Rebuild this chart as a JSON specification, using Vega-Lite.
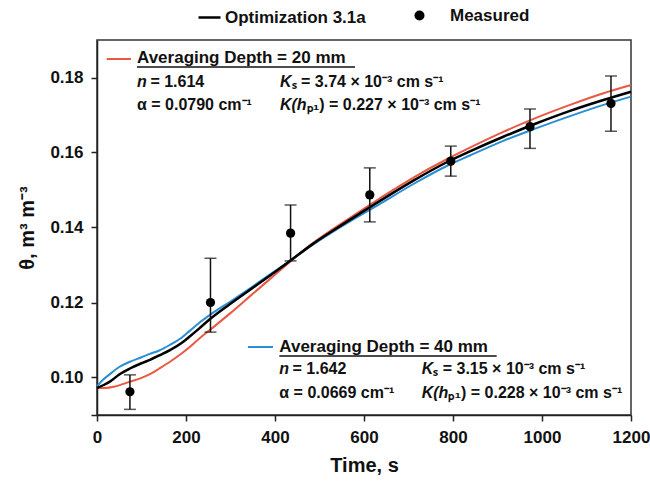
{
  "$schema": "https://vega.github.io/schema/vega-lite/v6.json",
  "width": 534,
  "height": 375,
  "autosize": "none",
  "padding": {"left": 97, "top": 40, "right": 19, "bottom": 71},
  "background": "white",
  "config": {
    "view": {"stroke": "#333", "strokeWidth": 1.5},
    "font": "Liberation Sans",
    "axis": {
      "grid": false,
      "domainColor": "#222",
      "domainWidth": 1.5,
      "tickColor": "#222",
      "tickWidth": 1.5,
      "tickSize": 6,
      "labelFont": "Liberation Sans",
      "labelFontSize": 17,
      "labelFontWeight": "bold",
      "labelColor": "#111",
      "titleFont": "Liberation Sans",
      "titleFontSize": 20,
      "titleFontWeight": "bold",
      "titleColor": "#111"
    }
  },
  "datasets": {
    "curves": [
      {"series": "Averaging Depth = 20 mm", "t": 0, "theta": 0.0972},
      {"series": "Averaging Depth = 20 mm", "t": 20, "theta": 0.0972},
      {"series": "Averaging Depth = 20 mm", "t": 40, "theta": 0.0976},
      {"series": "Averaging Depth = 20 mm", "t": 74, "theta": 0.0989},
      {"series": "Averaging Depth = 20 mm", "t": 100, "theta": 0.0999},
      {"series": "Averaging Depth = 20 mm", "t": 119, "theta": 0.1009},
      {"series": "Averaging Depth = 20 mm", "t": 140, "theta": 0.1024},
      {"series": "Averaging Depth = 20 mm", "t": 164, "theta": 0.1042},
      {"series": "Averaging Depth = 20 mm", "t": 190, "theta": 0.1064},
      {"series": "Averaging Depth = 20 mm", "t": 209, "theta": 0.1082},
      {"series": "Averaging Depth = 20 mm", "t": 230, "theta": 0.1104},
      {"series": "Averaging Depth = 20 mm", "t": 254, "theta": 0.1127},
      {"series": "Averaging Depth = 20 mm", "t": 299, "theta": 0.1171},
      {"series": "Averaging Depth = 20 mm", "t": 344, "theta": 0.1217},
      {"series": "Averaging Depth = 20 mm", "t": 389, "theta": 0.1263},
      {"series": "Averaging Depth = 20 mm", "t": 426, "theta": 0.1301},
      {"series": "Averaging Depth = 20 mm", "t": 486, "theta": 0.1359},
      {"series": "Averaging Depth = 20 mm", "t": 561, "theta": 0.1420},
      {"series": "Averaging Depth = 20 mm", "t": 636, "theta": 0.1478},
      {"series": "Averaging Depth = 20 mm", "t": 711, "theta": 0.1533},
      {"series": "Averaging Depth = 20 mm", "t": 786, "theta": 0.1582},
      {"series": "Averaging Depth = 20 mm", "t": 838, "theta": 0.1613},
      {"series": "Averaging Depth = 20 mm", "t": 913, "theta": 0.1655},
      {"series": "Averaging Depth = 20 mm", "t": 988, "theta": 0.1693},
      {"series": "Averaging Depth = 20 mm", "t": 1063, "theta": 0.1727},
      {"series": "Averaging Depth = 20 mm", "t": 1138, "theta": 0.1758},
      {"series": "Averaging Depth = 20 mm", "t": 1200, "theta": 0.1780},
      {"series": "Averaging Depth = 40 mm", "t": 0, "theta": 0.0976},
      {"series": "Averaging Depth = 40 mm", "t": 10, "theta": 0.0990},
      {"series": "Averaging Depth = 40 mm", "t": 29, "theta": 0.1009},
      {"series": "Averaging Depth = 40 mm", "t": 50, "theta": 0.1028},
      {"series": "Averaging Depth = 40 mm", "t": 74, "theta": 0.1042},
      {"series": "Averaging Depth = 40 mm", "t": 100, "theta": 0.1054},
      {"series": "Averaging Depth = 40 mm", "t": 119, "theta": 0.1063},
      {"series": "Averaging Depth = 40 mm", "t": 140, "theta": 0.1072},
      {"series": "Averaging Depth = 40 mm", "t": 164, "theta": 0.1087},
      {"series": "Averaging Depth = 40 mm", "t": 190, "theta": 0.1106},
      {"series": "Averaging Depth = 40 mm", "t": 209, "theta": 0.1125},
      {"series": "Averaging Depth = 40 mm", "t": 230, "theta": 0.1146},
      {"series": "Averaging Depth = 40 mm", "t": 254, "theta": 0.1167},
      {"series": "Averaging Depth = 40 mm", "t": 299, "theta": 0.1202},
      {"series": "Averaging Depth = 40 mm", "t": 344, "theta": 0.1238},
      {"series": "Averaging Depth = 40 mm", "t": 389, "theta": 0.1275},
      {"series": "Averaging Depth = 40 mm", "t": 426, "theta": 0.1305},
      {"series": "Averaging Depth = 40 mm", "t": 486, "theta": 0.1355},
      {"series": "Averaging Depth = 40 mm", "t": 561, "theta": 0.1411},
      {"series": "Averaging Depth = 40 mm", "t": 636, "theta": 0.1463},
      {"series": "Averaging Depth = 40 mm", "t": 711, "theta": 0.1516},
      {"series": "Averaging Depth = 40 mm", "t": 786, "theta": 0.1564},
      {"series": "Averaging Depth = 40 mm", "t": 838, "theta": 0.1592},
      {"series": "Averaging Depth = 40 mm", "t": 913, "theta": 0.1631},
      {"series": "Averaging Depth = 40 mm", "t": 988, "theta": 0.1665},
      {"series": "Averaging Depth = 40 mm", "t": 1063, "theta": 0.1697},
      {"series": "Averaging Depth = 40 mm", "t": 1138, "theta": 0.1727},
      {"series": "Averaging Depth = 40 mm", "t": 1200, "theta": 0.1749},
      {"series": "Optimization 3.1a", "t": 0, "theta": 0.0972},
      {"series": "Optimization 3.1a", "t": 15, "theta": 0.0980},
      {"series": "Optimization 3.1a", "t": 29, "theta": 0.0989},
      {"series": "Optimization 3.1a", "t": 50, "theta": 0.1008},
      {"series": "Optimization 3.1a", "t": 74, "theta": 0.1024},
      {"series": "Optimization 3.1a", "t": 100, "theta": 0.1038},
      {"series": "Optimization 3.1a", "t": 119, "theta": 0.1047},
      {"series": "Optimization 3.1a", "t": 140, "theta": 0.1059},
      {"series": "Optimization 3.1a", "t": 164, "theta": 0.1073},
      {"series": "Optimization 3.1a", "t": 190, "theta": 0.1092},
      {"series": "Optimization 3.1a", "t": 209, "theta": 0.1110},
      {"series": "Optimization 3.1a", "t": 230, "theta": 0.1131},
      {"series": "Optimization 3.1a", "t": 254, "theta": 0.1156},
      {"series": "Optimization 3.1a", "t": 299, "theta": 0.1196},
      {"series": "Optimization 3.1a", "t": 344, "theta": 0.1234},
      {"series": "Optimization 3.1a", "t": 389, "theta": 0.1272},
      {"series": "Optimization 3.1a", "t": 426, "theta": 0.1304},
      {"series": "Optimization 3.1a", "t": 486, "theta": 0.1357},
      {"series": "Optimization 3.1a", "t": 561, "theta": 0.1415},
      {"series": "Optimization 3.1a", "t": 636, "theta": 0.1471},
      {"series": "Optimization 3.1a", "t": 711, "theta": 0.1525},
      {"series": "Optimization 3.1a", "t": 786, "theta": 0.1574},
      {"series": "Optimization 3.1a", "t": 838, "theta": 0.1603},
      {"series": "Optimization 3.1a", "t": 913, "theta": 0.1642},
      {"series": "Optimization 3.1a", "t": 988, "theta": 0.1678},
      {"series": "Optimization 3.1a", "t": 1063, "theta": 0.1711},
      {"series": "Optimization 3.1a", "t": 1138, "theta": 0.1740},
      {"series": "Optimization 3.1a", "t": 1200, "theta": 0.1762}
    ],
    "measured": [
      {"obs": "Measured", "t": 74, "theta": 0.0962, "lo": 0.0915, "hi": 0.1007},
      {"obs": "Measured", "t": 255, "theta": 0.1200, "lo": 0.1121, "hi": 0.1318},
      {"obs": "Measured", "t": 435, "theta": 0.1385, "lo": 0.1311, "hi": 0.1460},
      {"obs": "Measured", "t": 613, "theta": 0.1487, "lo": 0.1415, "hi": 0.1559},
      {"obs": "Measured", "t": 795, "theta": 0.1577, "lo": 0.1537, "hi": 0.1617},
      {"obs": "Measured", "t": 973, "theta": 0.1669, "lo": 0.1611, "hi": 0.1716},
      {"obs": "Measured", "t": 1155, "theta": 0.1731, "lo": 0.1657, "hi": 0.1804}
    ],
    "headers": [
      {"t": 89.9, "theta": 0.1852, "text": "Averaging Depth = 20 mm"},
      {"t": 409.7, "theta": 0.10821, "text": "Averaging Depth = 40 mm"}
    ],
    "italicText": [
      {"t": 89.9, "theta": 0.17888, "text": "n"},
      {"t": 411.2, "theta": 0.17888, "text": "K"},
      {"t": 411.2, "theta": 0.17267, "text": "K(h"},
      {"t": 409.7, "theta": 0.10219, "text": "n"},
      {"t": 729.7, "theta": 0.10219, "text": "K"},
      {"t": 729.7, "theta": 0.09579, "text": "K(h"}
    ],
    "plainText": [
      {"t": 120, "theta": 0.17888, "text": "= 1.614"},
      {"t": 437.3, "theta": 0.17888, "text": "ₛ = 3.74 × 10⁻³ cm s⁻¹"},
      {"t": 89.9, "theta": 0.17267, "text": "α = 0.0790 cm⁻¹"},
      {"t": 471.2, "theta": 0.17267, "text": "ₚ₁) = 0.227 × 10⁻³ cm s⁻¹"},
      {"t": 439.5, "theta": 0.10219, "text": "= 1.642"},
      {"t": 755.7, "theta": 0.10219, "text": "ₛ = 3.15 × 10⁻³ cm s⁻¹"},
      {"t": 409.7, "theta": 0.09579, "text": "α = 0.0669 cm⁻¹"},
      {"t": 789.7, "theta": 0.09579, "text": "ₚ₁) = 0.228 × 10⁻³ cm s⁻¹"}
    ],
    "segments": [
      {"kind": "key20", "t1": 21.8, "t2": 76.4, "theta": 0.18493},
      {"kind": "key40", "t1": 339.3, "t2": 395.5, "theta": 0.10813},
      {"kind": "underline", "t1": 89.9, "t2": 579.8, "theta": 0.1828},
      {"kind": "underline", "t1": 409.7, "t2": 898.2, "theta": 0.10573}
    ]
  },
  "encoding": {
    "x": {
      "field": "t", "type": "quantitative",
      "scale": {"domain": [0, 1200], "nice": false, "zero": false},
      "axis": {"title": "Time, s", "values": [0, 200, 400, 600, 800, 1000, 1200], "format": "d", "labelFlush": false, "labelBound": false, "labelPadding": 8, "titlePadding": 10}
    },
    "y": {
      "field": "theta", "type": "quantitative",
      "scale": {"domain": [0.09, 0.19], "nice": false, "zero": false},
      "axis": {"title": "θ, m³ m⁻³", "values": [0.09, 0.10, 0.12, 0.14, 0.16, 0.18], "format": ".2f", "labelExpr": "datum.value < 0.095 ? '' : datum.label", "labelPadding": 8, "titlePadding": 12}
    }
  },
  "layer": [
    {
      "data": {"name": "curves"},
      "transform": [{"filter": "datum.series == 'Averaging Depth = 20 mm'"}],
      "mark": {"type": "line", "color": "#EA5842", "strokeWidth": 2, "interpolate": "monotone"}
    },
    {
      "data": {"name": "curves"},
      "transform": [{"filter": "datum.series == 'Averaging Depth = 40 mm'"}],
      "mark": {"type": "line", "color": "#2A8ED3", "strokeWidth": 2, "interpolate": "monotone"}
    },
    {
      "data": {"name": "curves"},
      "transform": [{"filter": "datum.series == 'Optimization 3.1a'"}],
      "mark": {"type": "line", "strokeWidth": 2.5, "interpolate": "monotone"},
      "encoding": {
        "color": {
          "field": "series", "type": "nominal",
          "scale": {"domain": ["Optimization 3.1a"], "range": ["#000000"]},
          "legend": {"orient": "none", "legendX": 100, "legendY": -35, "title": null, "direction": "horizontal", "symbolType": "stroke", "symbolSize": 484, "symbolStrokeWidth": 2.5, "symbolStrokeColor": "#000", "labelFont": "Liberation Sans", "labelFontSize": 17, "labelFontWeight": "bold", "labelColor": "#111", "labelOffset": 3, "padding": 0}
        }
      }
    },
    {
      "data": {"name": "measured"},
      "mark": {"type": "errorbar", "ticks": {"size": 12, "thickness": 1.5, "color": "#111"}, "rule": {"strokeWidth": 1.5, "color": "#111"}},
      "encoding": {
        "y": {"field": "lo", "type": "quantitative"},
        "y2": {"field": "hi"}
      }
    },
    {
      "data": {"name": "measured"},
      "mark": {"type": "point", "filled": true, "color": "#000", "size": 85, "opacity": 1},
      "encoding": {
        "shape": {
          "field": "obs", "type": "nominal",
          "scale": {"domain": ["Measured"], "range": ["circle"]},
          "legend": {"orient": "none", "legendX": 314, "legendY": -33, "title": null, "symbolSize": 100, "symbolFillColor": "#000", "symbolStrokeColor": "#000", "symbolStrokeWidth": 0, "labelFont": "Liberation Sans", "labelFontSize": 17, "labelFontWeight": "bold", "labelColor": "#111", "labelOffset": 22, "padding": 0}
        }
      }
    },
    {
      "data": {"name": "segments"},
      "transform": [{"filter": "datum.kind == 'key20'"}],
      "mark": {"type": "rule", "color": "#EA5842", "strokeWidth": 2},
      "encoding": {"x": {"field": "t1", "type": "quantitative"}, "x2": {"field": "t2"}}
    },
    {
      "data": {"name": "segments"},
      "transform": [{"filter": "datum.kind == 'key40'"}],
      "mark": {"type": "rule", "color": "#2A8ED3", "strokeWidth": 2},
      "encoding": {"x": {"field": "t1", "type": "quantitative"}, "x2": {"field": "t2"}}
    },
    {
      "data": {"name": "segments"},
      "transform": [{"filter": "datum.kind == 'underline'"}],
      "mark": {"type": "rule", "color": "#111", "strokeWidth": 1.5},
      "encoding": {"x": {"field": "t1", "type": "quantitative"}, "x2": {"field": "t2"}}
    },
    {
      "data": {"name": "headers"},
      "mark": {"type": "text", "align": "left", "baseline": "middle", "font": "Liberation Sans", "fontSize": 17, "fontWeight": "bold", "color": "#111"},
      "encoding": {"text": {"field": "text"}}
    },
    {
      "data": {"name": "italicText"},
      "mark": {"type": "text", "align": "left", "baseline": "middle", "font": "Liberation Sans", "fontSize": 16, "fontWeight": "bold", "fontStyle": "italic", "color": "#111"},
      "encoding": {"text": {"field": "text"}}
    },
    {
      "data": {"name": "plainText"},
      "mark": {"type": "text", "align": "left", "baseline": "middle", "font": "Liberation Sans", "fontSize": 16, "fontWeight": "bold", "color": "#111"},
      "encoding": {"text": {"field": "text"}}
    }
  ]
}
